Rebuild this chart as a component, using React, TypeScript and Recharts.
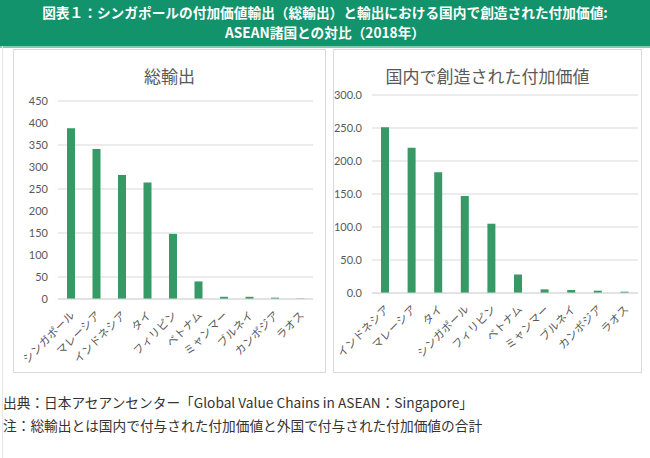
import { BarChart, Bar, XAxis, YAxis, CartesianGrid } from 'recharts';

// 総輸出（左）
const totalCountries = ['シンガポール', 'マレーシア', 'インドネシア', 'タイ', 'フィリピン', 'ベトナム', 'ミャンマー', 'ブルネイ', 'カンボジア', 'ラオス'];
const totalValues = [388, 341, 282, 265, 148, 40, 5, 5, 3, 1];
const totalTicks = [0, 50, 100, 150, 200, 250, 300, 350, 400, 450];

// 国内で創造された付加価値（右）
const domesticCountries = ['インドネシア', 'マレーシア', 'タイ', 'シンガポール', 'フィリピン', 'ベトナム', 'ミャンマー', 'ブルネイ', 'カンボジア', 'ラオス'];
const domesticValues = [251, 220, 183, 147, 105, 28, 5.5, 4.5, 3.5, 2];
const domesticTicks = [0, 50, 100, 150, 200, 250, 300];

const BAR = '#379a66';
const GRID = '#d9d9d9';
const TEXT = '#595959';
const JP = '"Noto Sans CJK JP", sans-serif';

const AngleTick = (props: any) => {
  const { x, y, payload } = props;
  return (
    <g transform={`translate(${x + 2},${y + 6})`}>
      <text
        x={0}
        y={0}
        dy='0.35em'
        textAnchor='end'
        transform='rotate(-45)'
        fill={TEXT}
        fontSize={11}
        letterSpacing={0.3}
        fontFamily={JP}
      >
        {payload.value}
      </text>
    </g>
  );
};

const Panel = ({ left, width, title, data, ticks, domainMax, yWidth, bottom, fmt }: any) => (
  <div
    style={{
      position: 'absolute',
      left,
      top: 49,
      width,
      height: 324,
      border: `1px solid ${GRID}`,
      boxSizing: 'border-box',
      background: '#fff',
    }}
  >
    <div
      style={{
        position: 'absolute',
        left: 0,
        right: 0,
        top: 13,
        textAlign: 'center',
        fontFamily: JP,
        fontSize: 17,
        color: TEXT,
      }}
    >
      {title}
    </div>
    <div style={{ position: 'absolute', left: -1, top: -1 }}>
      <BarChart
        width={width}
        height={324}
        data={data}
        margin={{ top: bottom.top, right: bottom.right, left: 0, bottom: 0 }}
        barCategoryGap={0}
      >
        <CartesianGrid vertical={false} stroke={GRID} />
        <XAxis
          dataKey='name'
          interval={0}
          tickLine={false}
          axisLine={{ stroke: GRID }}
          height={bottom.height}
          tick={<AngleTick />}
        />
        <YAxis
          width={yWidth}
          domain={[0, domainMax]}
          ticks={ticks}
          axisLine={false}
          tickLine={false}
          tickMargin={4}
          tickFormatter={fmt}
          tick={{ fill: TEXT, fontSize: 11, fontFamily: 'Lato, sans-serif' }}
        />
        <Bar dataKey='value' fill={BAR} barSize={8} isAnimationActive={false} />
      </BarChart>
    </div>
  </div>
);

export default function App() {
  const leftData = totalCountries.map((name, i) => ({ name, value: totalValues[i] }));
  const rightData = domesticCountries.map((name, i) => ({ name, value: domesticValues[i] }));

  return (
    <div
      style={{
        position: 'absolute',
        left: 0,
        top: 0,
        width: 650,
        height: 458,
        background: '#fff',
        overflow: 'hidden',
        fontFamily: JP,
      }}
    >
      <div
        style={{
          position: 'absolute',
          left: 0,
          top: 0,
          width: 650,
          height: 44,
          background: '#12936b',
          borderBottom: '2px solid #7fcbae',
          color: '#fff',
          fontWeight: 'bold',
          fontSize: 13.7,
          textAlign: 'center',
          lineHeight: '20px',
          paddingTop: 2,
          boxSizing: 'content-box',
        }}
      >
        <div>図表１：シンガポールの付加価値輸出（総輸出）と輸出における国内で創造された付加価値:</div>
        <div>ASEAN諸国との対比（2018年）</div>
      </div>
      <div style={{ position: 'absolute', left: 2, top: 46, width: 1, height: 412, background: '#e6e6e6' }} />

      <Panel
        left={13}
        width={313}
        title='総輸出'
        data={leftData}
        ticks={totalTicks}
        domainMax={450}
        yWidth={45}
        bottom={{ top: 52, right: 13, height: 74 }}
        fmt={(v: number) => String(v)}
      />
      <Panel
        left={333}
        width={309}
        title='国内で創造された付加価値'
        data={rightData}
        ticks={domesticTicks}
        domainMax={300}
        yWidth={39}
        bottom={{ top: 46, right: 4, height: 80 }}
        fmt={(v: number) => v.toFixed(1)}
      />

      <div
        style={{
          position: 'absolute',
          left: 3,
          top: 391,
          fontSize: 13.7,
          color: '#333',
          lineHeight: '23px',
          whiteSpace: 'nowrap',
        }}
      >
        <div>出典：日本アセアンセンター「Global Value Chains in ASEAN：Singapore」</div>
        <div>注：総輸出とは国内で付与された付加価値と外国で付与された付加価値の合計</div>
      </div>
    </div>
  );
}
